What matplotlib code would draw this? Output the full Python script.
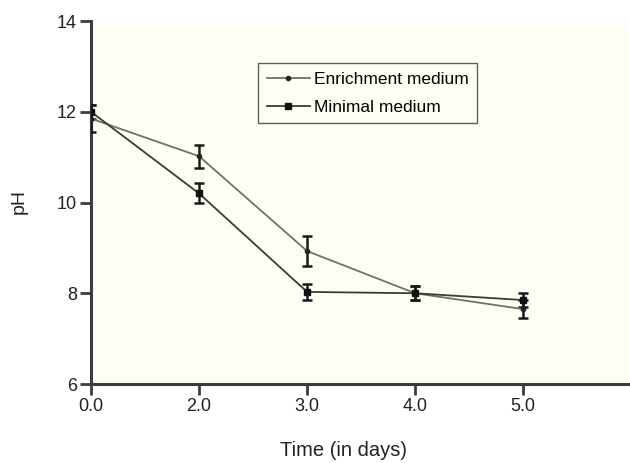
import numpy as np
import matplotlib.pyplot as plt
from matplotlib.lines import Line2D

plt.rcParams['font.family'] = ['Liberation Sans', 'DejaVu Sans']

# Datos
dias = ['0.0', '2.0', '3.0', '4.0', '5.0']
ph_enriquecido = [11.85, 11.02, 8.93, 8.0, 7.65]
err_enriquecido = [0.3, 0.25, 0.34, 0.15, 0.2]
ph_minimo = [12.0, 10.2, 8.03, 8.0, 7.85]
err_minimo = [0.15, 0.22, 0.18, 0.15, 0.15]

x = np.arange(len(dias))

fig = plt.figure(figsize=(6.3, 4.63), dpi=100, facecolor='white')
ax = fig.add_axes([0.1444, 0.1706, 0.8526, 0.784])
ax.set_facecolor('#FFFEF2')

estilo_enr = dict(color='#707070', lw=1.3, marker='o', ms=3,
                  mfc='#222222', mec='#222222')
estilo_min = dict(color='#3a3a3a', lw=1.3, marker='s', ms=4.5,
                  mfc='#111111', mec='#111111')

ax.errorbar(x, ph_enriquecido, yerr=err_enriquecido, ecolor='#1a1a1a',
            elinewidth=1.8, capsize=3.5, capthick=1.8, zorder=3, **estilo_enr)
ax.errorbar(x, ph_minimo, yerr=err_minimo, ecolor='#1a1a1a',
            elinewidth=1.8, capsize=3.5, capthick=1.8, zorder=3, **estilo_min)

ax.set_xlim(0, 4.97)
ax.set_ylim(6, 14)
ax.set_xticks(x)
ax.set_xticklabels(dias)
ax.set_yticks([6, 8, 10, 12, 14])

for s in ['top', 'right']:
    ax.spines[s].set_visible(False)
for s in ['left', 'bottom']:
    ax.spines[s].set_linewidth(2.2)
    ax.spines[s].set_color('#3c3c3c')

ax.tick_params(axis='both', direction='out', length=8, width=2,
               color='#3c3c3c', labelsize=13, labelcolor='#222222', pad=2)

# Leyenda sin barras de error
handles = [Line2D([], [], **estilo_enr), Line2D([], [], **estilo_min)]
leg = ax.legend(handles, ['Enrichment medium', 'Minimal medium'],
                loc='upper left', bbox_to_anchor=(0.311, 0.885), fontsize=12.5,
                frameon=True, fancybox=False, edgecolor='#333333',
                handlelength=2.5, handletextpad=0.2, borderpad=0.5,
                borderaxespad=0, labelspacing=0.75)
leg.get_frame().set_linewidth(1.0)
leg.get_frame().set_facecolor('#FFFEF2')

fig.text(0.03, 0.564, 'pH', rotation=90, fontsize=14, color='#222222',
         ha='center', va='center')
fig.text(0.545, 0.027, 'Time (in days)', fontsize=14.5, color='#222222',
         ha='center', va='center')

fig.savefig('out.png', dpi=100)
